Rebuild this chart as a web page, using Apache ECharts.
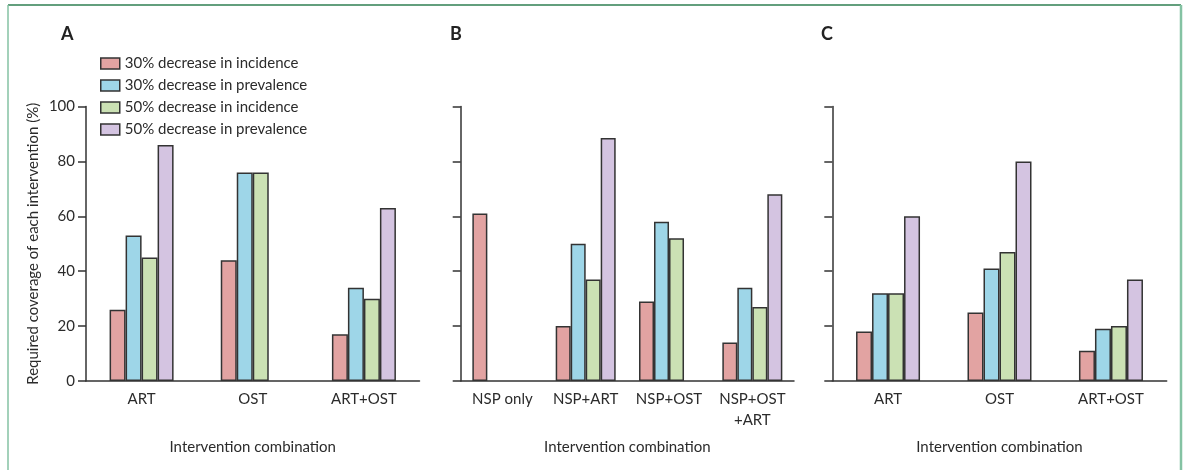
<!DOCTYPE html>
<html>
<head>
<meta charset="utf-8">
<script src="https://cdn.jsdelivr.net/npm/echarts@6/dist/echarts.min.js"></script>
<style>
html,body{margin:0;padding:0;background:#fff;}
#c{width:1184px;height:470px;}
</style>
</head>
<body>
<div id="c"></div>
<script>
var seriesNames = ['30% decrease in incidence','30% decrease in prevalence','50% decrease in incidence','50% decrease in prevalence'];
var colors = ['#e2a3a2','#9ed6e8','#cbe1b4','#d4c4e1'];
var yTicks = [0,20,40,60,80,100];

var catsA = ['ART','OST','ART+OST'];
var aInc30 = [26,44,17];
var aPrev30 = [53,76,34];
var aInc50 = [45,76,30];
var aPrev50 = [86,null,63];

var catsB = ['NSP only','NSP+ART','NSP+OST','NSP+OST\n+ART'];
var bInc30 = [61,20,29,14];
var bPrev30 = [null,50,58,34];
var bInc50 = [null,37,52,27];
var bPrev50 = [null,88.5,null,68];

var catsC = ['ART','OST','ART+OST'];
var cInc30 = [18,25,11];
var cPrev30 = [32,41,19];
var cInc50 = [32,47,20];
var cPrev50 = [60,80,37];

var panels = [
  {cats: catsA, data: [aInc30,aPrev30,aInc50,aPrev50], left: 86, right: 764.5, bw: 16, labels: true},
  {cats: catsB, data: [bInc30,bPrev30,bInc50,bPrev50], left: 460.7, right: 390, bw: 15, labels: false},
  {cats: catsC, data: [cInc30,cPrev30,cInc50,cPrev50], left: 832.3, right: 17.3, bw: 16, labels: false}
];

var FONT = 'Lato';
var FS = 15;
var TXT = '#2b2b2b';
var AX = '#333';

var grids = [], xAxes = [], yAxes = [], series = [];
panels.forEach(function(p, i){
  grids.push({left: p.left, right: p.right, top: 106.5, bottom: 89, containLabel: false});
  xAxes.push({
    type: 'category', gridIndex: i, data: p.cats,
    name: 'Intervention combination', nameLocation: 'middle', nameGap: 66,
    nameTextStyle: {fontFamily: FONT, fontSize: FS, color: TXT, verticalAlign: 'middle'},
    axisLine: {lineStyle: {color: AX, width: 1.5}},
    axisTick: {length: 7, lineStyle: {color: AX, width: 1.5}},
    axisLabel: {fontFamily: FONT, fontSize: FS, color: TXT, margin: 8, lineHeight: 21, interval: 0}
  });
  yAxes.push({
    type: 'value', gridIndex: i, min: yTicks[0], max: yTicks[yTicks.length-1], interval: yTicks[1]-yTicks[0],
    name: i === 0 ? 'Required coverage of each intervention (%)' : '',
    nameLocation: 'middle', nameGap: 53,
    nameTextStyle: {fontFamily: FONT, fontSize: FS, color: TXT, verticalAlign: 'middle'},
    axisLine: {show: true, lineStyle: {color: AX, width: 1.5}},
    axisTick: {show: true, length: 8, lineStyle: {color: AX, width: 1.5}},
    axisLabel: {show: p.labels, fontFamily: FONT, fontSize: FS, color: TXT, margin: 11},
    splitLine: {show: false}
  });
  p.data.forEach(function(d, k){
    series.push({
      type: 'bar', name: seriesNames[k], xAxisIndex: i, yAxisIndex: i,
      data: d, barWidth: p.bw, barGap: '0%',
      itemStyle: {color: colors[k], borderColor: '#333', borderWidth: 1.5},
      emphasis: {disabled: true}
    });
  });
});

var chart = echarts.init(document.getElementById('c'), null, {renderer: 'canvas'});
chart.setOption({
  animation: false,
  backgroundColor: '#fff',
  grid: grids,
  xAxis: xAxes,
  yAxis: yAxes,
  series: series,
  legend: {
    data: seriesNames, orient: 'vertical', left: 100, top: 56, padding: 0,
    itemWidth: 19, itemHeight: 11, itemGap: 7, icon: 'rect',
    itemStyle: {borderColor: '#333', borderWidth: 1.5},
    textStyle: {fontFamily: FONT, fontSize: FS, color: TXT, lineHeight: 14}
  },
  graphic: [
    {type: 'line', shape: {x1: 8, y1: 5, x2: 1181, y2: 5}, style: {stroke: '#2f7f52', lineWidth: 1.5}},
    {type: 'line', shape: {x1: 8, y1: 5, x2: 8, y2: 470}, style: {stroke: '#84c2a3', lineWidth: 1.5}},
    {type: 'line', shape: {x1: 1181, y1: 5, x2: 1181, y2: 470}, style: {stroke: '#84c2a3', lineWidth: 2.5}},
    {type: 'text', left: 61, top: 25, style: {text: 'A', font: 'bold 18px ' + FONT, fill: '#222'}},
    {type: 'text', left: 450, top: 25, style: {text: 'B', font: 'bold 18px ' + FONT, fill: '#222'}},
    {type: 'text', left: 821, top: 25, style: {text: 'C', font: 'bold 18px ' + FONT, fill: '#222'}}
  ]
});
</script>
</body>
</html>
